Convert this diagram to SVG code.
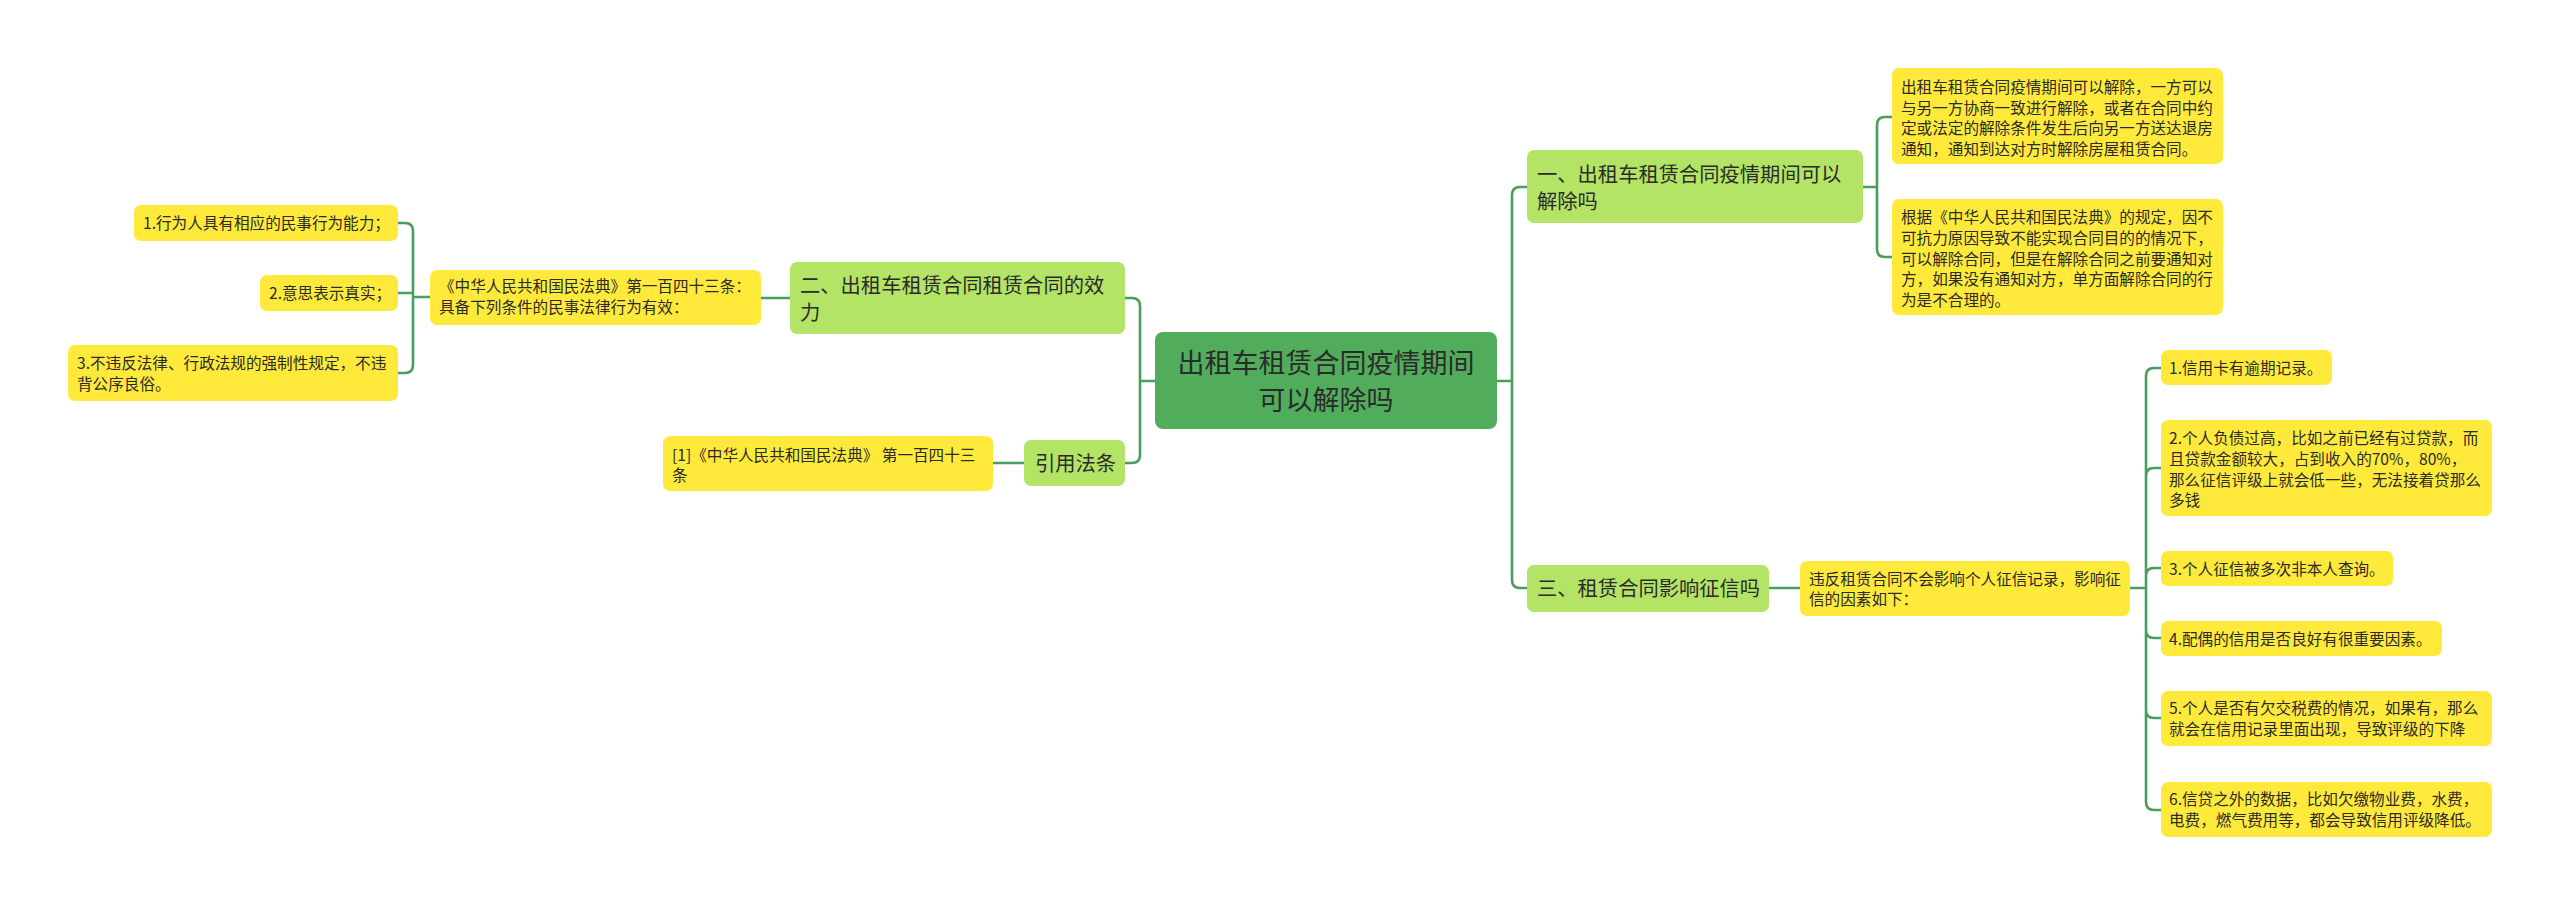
<svg xmlns="http://www.w3.org/2000/svg" width="2560" height="905" viewBox="0 0 2560 905">
<style>
.root{fill:#51ad5b;}
.br{fill:#b3e465;}
.yl{fill:#ffea3b;}
text{font-family:"Noto Sans CJK SC","Noto Sans",sans-serif;fill:#2b2b2b;}
.t25{font-size:27px;}
.t20{font-size:20.3px;}
.t15{font-size:15.6px;}
.cn{fill:none;stroke:#4a9e5c;stroke-width:2.6;stroke-linecap:round;}
</style>
<rect width="2560" height="905" fill="#ffffff"/>
<g id="connectors" class="cn">
<path d="M1155,381 H1140 M1140,381 V306 Q1140,298 1132,298 H1125 M1140,381 V455 Q1140,463 1132,463 H1125"/>
<path d="M790,298 H761 M1024,463 H993"/>
<path d="M430,297 H413 M413,297 V231 Q413,223 405,223 H398 M413,293 H398 M413,297 V365 Q413,373 405,373 H398"/>
<path d="M1497,381 H1512 M1512,381 V195 Q1512,187 1520,187 H1527 M1512,381 V580 Q1512,588 1520,588 H1527"/>
<path d="M1863,187 H1877 M1877,187 V125 Q1877,117 1885,117 H1892 M1877,187 V249 Q1877,257 1885,257 H1892"/>
<path d="M1769,588 H1800"/>
<path d="M2130,588 H2146 M2146,588 V376 Q2146,368 2154,368 H2161 M2146,588 V476 Q2146,468 2154,468 H2161 M2146,588 V576 Q2146,568 2154,568 H2161 M2146,588 V630 Q2146,638 2154,638 H2161 M2146,588 V710 Q2146,718 2154,718 H2161 M2146,588 V802 Q2146,810 2154,810 H2161"/>
</g>
<g id="root">
<rect class="root" x="1155" y="332" width="342" height="97" rx="8"/>
<text class="t25" x="1326" y="373" text-anchor="middle">出租车租赁合同疫情期间</text>
<text class="t25" x="1326" y="410" text-anchor="middle">可以解除吗</text>
</g>
<g id="b1">
<rect class="br" x="1527" y="150" width="336" height="73" rx="7"/>
<text class="t20" x="1537" y="181.5">一、出租车租赁合同疫情期间可以</text>
<text class="t20" x="1537" y="208.5">解除吗</text>
</g>
<g id="b1a">
<rect class="yl" x="1892" y="68" width="331" height="96" rx="7"/>
<text class="t15" x="1901" y="93">出租车租赁合同疫情期间可以解除，一方可以</text>
<text class="t15" x="1901" y="113.5">与另一方协商一致进行解除，或者在合同中约</text>
<text class="t15" x="1901" y="134">定或法定的解除条件发生后向另一方送达退房</text>
<text class="t15" x="1901" y="154.5">通知，通知到达对方时解除房屋租赁合同。</text>
</g>
<g id="b1b">
<rect class="yl" x="1892" y="199" width="331" height="116" rx="7"/>
<text class="t15" x="1901" y="223">根据《中华人民共和国民法典》的规定，因不</text>
<text class="t15" x="1901" y="244">可抗力原因导致不能实现合同目的的情况下，</text>
<text class="t15" x="1901" y="264.5">可以解除合同，但是在解除合同之前要通知对</text>
<text class="t15" x="1901" y="285">方，如果没有通知对方，单方面解除合同的行</text>
<text class="t15" x="1901" y="305.5">为是不合理的。</text>
</g>
<g id="b3">
<rect class="br" x="1527" y="565" width="242" height="47" rx="7"/>
<text class="t20" x="1537" y="596">三、租赁合同影响征信吗</text>
</g>
<g id="b3m">
<rect class="yl" x="1800" y="561" width="330" height="55" rx="7"/>
<text class="t15" x="1809" y="585">违反租赁合同不会影响个人征信记录，影响征</text>
<text class="t15" x="1809" y="605">信的因素如下：</text>
</g>
<g id="i1">
<rect class="yl" x="2161" y="350" width="171" height="35" rx="7"/>
<text class="t15" x="2169" y="373.5">1.信用卡有逾期记录。</text>
</g>
<g id="i2">
<rect class="yl" x="2161" y="420" width="331" height="96" rx="7"/>
<text class="t15" x="2169" y="444">2.个人负债过高，比如之前已经有过贷款，而</text>
<text class="t15" x="2169" y="465">且贷款金额较大，占到收入的70%，80%，</text>
<text class="t15" x="2169" y="485.5">那么征信评级上就会低一些，无法接着贷那么</text>
<text class="t15" x="2169" y="506">多钱</text>
</g>
<g id="i3">
<rect class="yl" x="2161" y="551" width="232" height="35" rx="7"/>
<text class="t15" x="2169" y="574.5">3.个人征信被多次非本人查询。</text>
</g>
<g id="i4">
<rect class="yl" x="2161" y="621" width="281" height="35" rx="7"/>
<text class="t15" x="2169" y="644.5">4.配偶的信用是否良好有很重要因素。</text>
</g>
<g id="i5">
<rect class="yl" x="2161" y="691" width="331" height="55" rx="7"/>
<text class="t15" x="2169" y="714">5.个人是否有欠交税费的情况，如果有，那么</text>
<text class="t15" x="2169" y="735">就会在信用记录里面出现，导致评级的下降</text>
</g>
<g id="i6">
<rect class="yl" x="2161" y="782" width="331" height="55" rx="7"/>
<text class="t15" x="2169" y="805">6.信贷之外的数据，比如欠缴物业费，水费，</text>
<text class="t15" x="2169" y="826">电费，燃气费用等，都会导致信用评级降低。</text>
</g>
<g id="b2">
<rect class="br" x="790" y="262" width="335" height="72" rx="7"/>
<text class="t20" x="800" y="293">二、出租车租赁合同租赁合同的效</text>
<text class="t20" x="800" y="320">力</text>
</g>
<g id="b2m">
<rect class="yl" x="430" y="270" width="331" height="55" rx="7"/>
<text class="t15" x="439" y="292">《中华人民共和国民法典》第一百四十三条：</text>
<text class="t15" x="439" y="313">具备下列条件的民事法律行为有效：</text>
</g>
<g id="l1">
<rect class="yl" x="134" y="205" width="264" height="36" rx="7"/>
<text class="t15" x="143" y="229">1.行为人具有相应的民事行为能力；</text>
</g>
<g id="l2">
<rect class="yl" x="260" y="275" width="138" height="36" rx="7"/>
<text class="t15" x="269" y="299">2.意思表示真实；</text>
</g>
<g id="l3">
<rect class="yl" x="68" y="345" width="330" height="56" rx="7"/>
<text class="t15" x="77" y="369">3.不违反法律、行政法规的强制性规定，不违</text>
<text class="t15" x="77" y="390">背公序良俗。</text>
</g>
<g id="ref">
<rect class="br" x="1024" y="440" width="101" height="46" rx="7"/>
<text class="t20" x="1035" y="471">引用法条</text>
</g>
<g id="refy">
<rect class="yl" x="663" y="436" width="330" height="55" rx="7"/>
<text class="t15" x="672" y="461">[1]《中华人民共和国民法典》 第一百四十三</text>
<text class="t15" x="672" y="481">条</text>
</g>
</svg>
